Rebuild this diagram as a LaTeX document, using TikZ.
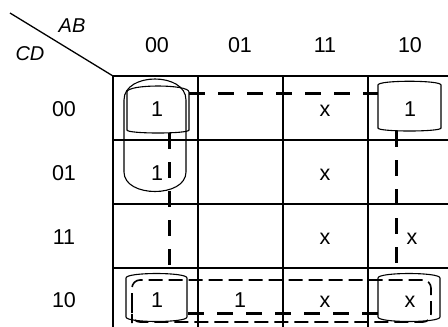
\documentclass[tikz,border=0pt]{standalone}
\usepackage{fontspec}
\setmainfont{Liberation Sans}
\begin{document}
\begin{tikzpicture}[x=1pt,y=-1pt,
  lbl/.style={font=\fontsize{21.5}{25}\selectfont, inner sep=0pt},
  gridline/.style={line width=1.3pt},
  loopline/.style={line width=1.1pt},
  thickdash/.style={line width=3pt, dash pattern=on 16pt off 13pt},
  thindash/.style={line width=1.6pt, dash pattern=on 14pt off 6pt, rounded corners=8pt}]
\useasboundingbox (0,0) rectangle (448,327);
\begin{scope}
\clip (0,0) rectangle (448,327);
% grid
\foreach \x in {113,198,283,368} \draw[gridline] (\x,76) -- (\x,330);
\foreach \y in {76,140,204,268} \draw[gridline] (113,\y) -- (450,\y);
\end{scope}
\coordinate (d0) at (10,13);
\coordinate (d1) at (113,76);
\draw[line width=1.3pt] (d0) -- (d1);
\node[lbl,font=\fontsize{20}{24}\selectfont\itshape] (ab) at (72,26) {AB};
\node[lbl,font=\fontsize{20}{24}\selectfont\itshape] (cd) at (30,54) {CD};
% column headers
\node[lbl] (c0) at (157,45) {00};
\node[lbl] (c1) at (240,45) {01};
\node[lbl] (c2) at (325,45) {11};
\node[lbl] (c3) at (410,45) {10};
% row headers
\node[lbl] (r0) at (64,109) {00};
\node[lbl] (r1) at (64,173) {01};
\node[lbl] (r2) at (64,237) {11};
\node[lbl] (r3) at (64,300) {10};
% cells
\node[lbl] (m00) at (157,109) {1};
\node[lbl] (m02) at (325,111) {x};
\node[lbl] (m03) at (410,109) {1};
\node[lbl] (m10) at (157,173) {1};
\node[lbl] (m12) at (325,175) {x};
\node[lbl] (m22) at (325,239) {x};
\node[lbl] (m23) at (412,239) {x};
\node[lbl] (m30) at (157,300) {1};
\node[lbl] (m31) at (240,300) {1};
\node[lbl] (m32) at (325,302) {x};
\node[lbl] (m33) at (410,302) {x};
% solid loops
\draw[loopline] (124,100) .. controls (124,72) and (186,72) .. (186,100) -- (186,172) .. controls (186,198) and (124,198) .. (124,172) -- cycle;
\draw[loopline,rounded corners=5pt] (127,97) .. controls (127,84) and (189,84) .. (189,97) -- (189,125) .. controls (189,134) and (127,134) .. (127,125) -- cycle;
\draw[loopline,rounded corners=5pt] (378,90) .. controls (378,80) and (441,80) .. (441,90) -- (441,123) .. controls (441,132) and (378,132) .. (378,123) -- cycle;
\draw[loopline,rounded corners=5pt] (126,283) .. controls (126,272) and (187,272) .. (187,283) -- (187,312) .. controls (187,323) and (126,323) .. (126,312) -- cycle;
\draw[loopline,rounded corners=5pt] (378,283) .. controls (378,272) and (440,272) .. (440,283) -- (440,312) .. controls (440,323) and (378,323) .. (378,312) -- cycle;
% thick dashed group (corners wrap)
\coordinate (t0) at (189,93);
\coordinate (t1) at (378,93);
\coordinate (v0a) at (169,133);
\coordinate (v0b) at (169,276);
\coordinate (v3a) at (396,131);
\coordinate (v3b) at (396,276);
\coordinate (b0) at (188,313);
\coordinate (b1) at (378,313);
\draw[thickdash] (t0) -- (t1);
\draw[thickdash] (v0a) -- (v0b);
\draw[thickdash] (v3a) -- (v3b);
\draw[thickdash] (b0) -- (b1);
% thin dashed row group
\draw[thindash] (132,315) -- (132,280) -- (431,280) -- (431,322) -- (132,322) -- cycle;
\end{tikzpicture}
\end{document}
